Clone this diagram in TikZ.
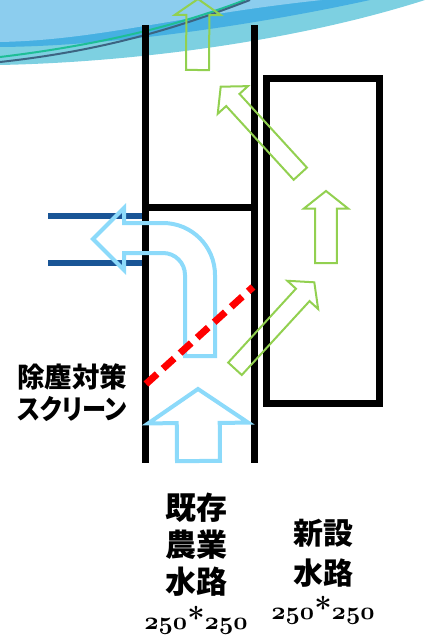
\documentclass[tikz,border=0pt]{standalone}
\usepackage{graphicx}
\usepackage{fontspec}
\newfontfamily\jpfont{Noto Sans CJK JP}
\usetikzlibrary{calc}
\definecolor{skytop}{HTML}{8CCDEE}
\definecolor{skydeep}{HTML}{46B0E2}
\definecolor{skylow}{HTML}{7DD0E1}
\definecolor{skyteal}{HTML}{1EBE96}
\definecolor{skyslate}{HTML}{3C6482}
\definecolor{airblue}{HTML}{8CDAFA}
\definecolor{pipeblue}{HTML}{195596}
\definecolor{leafgreen}{HTML}{92D050}
\newcommand{\drawblockarrow}[6]{
	\coordinate (base) at ($#3!#6!#2$);
	\draw[#1] ($#2!#4!90:#3$) -- ($(base)!#4!90:#3$) -- ($(base)!#5!90:#3$) -- #3
		-- ($(base)!#5!-90:#3$) -- ($(base)!#4!-90:#3$) -- ($#2!#4!-90:#3$) -- cycle;
}
\newcommand{\sizetext}{{\usefont{OML}{cmm}{b}{it}250}{\normalfont\bfseries*}{\usefont{OML}{cmm}{b}{it}250}}

\begin{document}
\begin{tikzpicture}[x=1pt,y=-1pt,
	wall/.style={line width=7pt},
	airflow/.style={draw=airblue,line width=4pt,line join=miter},
	newflow/.style={draw=leafgreen,line width=2pt},
	pipe/.style={draw=pipeblue,line width=5.5pt},
	screenline/.style={draw=red,line width=7pt,dash pattern=on 15pt off 8pt},
	jptext/.style={align=center,inner sep=0pt},
	numtext/.style={inner sep=0pt,font=\fontsize{31}{33}\selectfont}]
	\useasboundingbox (0,0) rectangle (425,642);
	\clip (0,0) rectangle (425,642);
	\path[fill=skylow] (0,0) -- (0,65) .. controls (140,62) and (300,40) .. (425,0) -- cycle;
	\path[fill=skydeep] (0,0) -- (0,47) .. controls (120,46) and (270,22) .. (370,0) -- cycle;
	\path[fill=skytop] (0,0) -- (0,42) .. controls (100,40) and (180,15) .. (322,0) -- cycle;
	\draw[line width=2pt,skyteal] (0,57) .. controls (100,45) and (180,25) .. (245,0);
	\draw[line width=2pt,skyslate] (0,62) .. controls (110,50) and (185,25) .. (250,0);
	\foreach \x in {145,254} \draw[wall] (\x,25) -- (\x,463);
	\draw[wall] (145,207) -- (254,207);
	\draw[wall,line join=miter] (266,78) rectangle (379.5,403);
	\foreach \y in {216,263} \draw[pipe] (48,\y) -- (142,\y);
	\draw[airflow] (93,239) -- (124,208) -- (124,223) -- (163,223) .. controls (191.7,223) and (215,246.3) .. (215,275)
		-- (215,356) -- (185,356) -- (185,275) .. controls (185,262.85) and (175.15,253) .. (163,253)
		-- (124,253) -- (124,270) -- cycle;
	\drawblockarrow{airflow}{(198.5,461)}{(198,389)}{21.5pt}{50pt}{34pt}
	\draw[screenline] (146,384) -- (253,287);
	\drawblockarrow{newflow}{(197.5,70)}{(198,-1)}{11.5pt}{23pt}{16pt}
	\drawblockarrow{newflow}{(300.3,173.7)}{(220.7,86.7)}{9pt}{20.5pt}{18pt}
	\drawblockarrow{newflow}{(326,263)}{(326,191)}{10.8pt}{22.2pt}{17.6pt}
	\drawblockarrow{newflow}{(235,368.8)}{(314.3,282.3)}{9.2pt}{20.9pt}{17.1pt}
	\node[jptext,font=\jpfont\bfseries\fontsize{27.5}{32}\selectfont] (screen) at (72,393)
		{除塵対策\\\scalebox{0.88}[1]{\addfontfeature{RawFeature=+palt}スクリーン}};
	\node[jptext,font=\jpfont\bfseries\fontsize{31}{37}\selectfont] (oldname) at (196,545) {既存\\農業\\水路};
	\node[numtext] (oldsize) at (196,620) {\sizetext};
	\node[jptext,font=\jpfont\bfseries\fontsize{30}{40}\selectfont] (newname) at (323,553) {新設\\水路};
	\node[numtext] (newsize) at (323,610) {\sizetext};
\end{tikzpicture}
\end{document}
